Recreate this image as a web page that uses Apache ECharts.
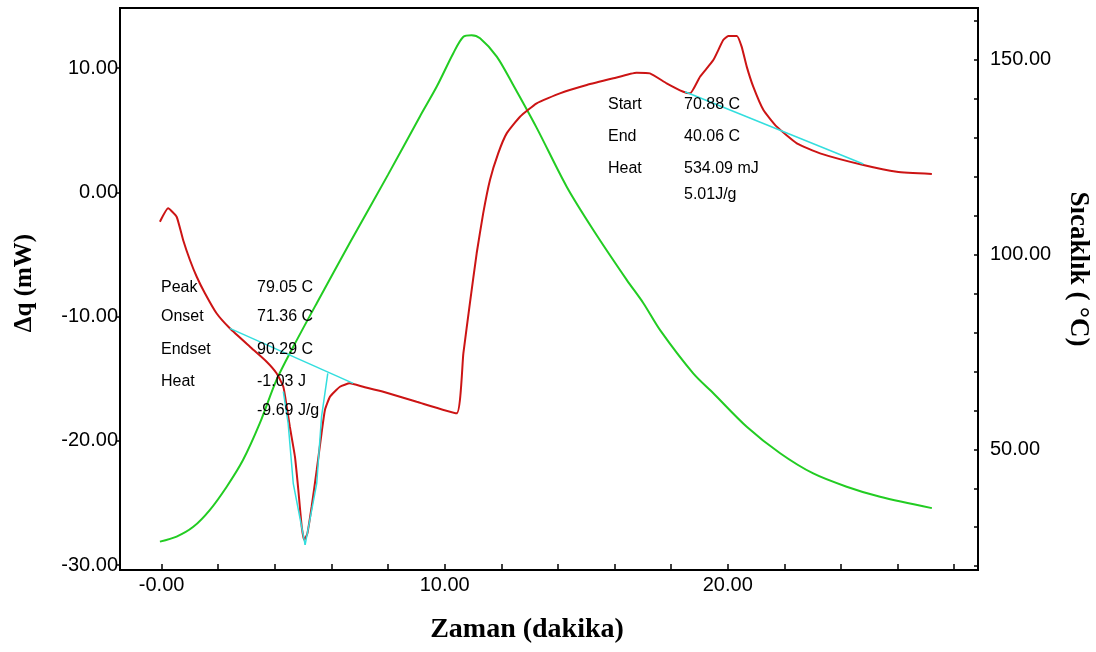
<!DOCTYPE html>
<html>
<head>
<meta charset="utf-8">
<title>DSC</title>
<script src="https://cdn.jsdelivr.net/npm/echarts@6/dist/echarts.min.js"></script>
<style>
  html, body { margin: 0; padding: 0; background: #fff; }
  #chart { width: 1096px; height: 652px; }
</style>
</head>
<body>
<div id="chart"></div>
<script>
// heat flow (red), minutes / mW
const flowTime = [-0.06, 0.23, 0.53, 0.76, 1.0, 1.24, 1.53, 1.94, 2.41, 3.12, 3.71, 4.06, 4.3, 4.42, 4.53, 4.71, 4.83, 4.95, 5.04, 5.15, 5.3, 5.48, 5.65, 5.77, 5.95, 6.3, 6.65, 7.12, 7.83, 9.01, 10.42, 10.66, 10.89, 11.13, 11.36, 11.6, 11.89, 12.19, 12.66, 13.25, 14.07, 15.02, 15.96, 16.78, 17.25, 17.84, 18.43, 18.67, 19.02, 19.49, 19.84, 20.02, 20.32, 20.49, 20.67, 20.9, 21.26, 21.73, 22.44, 23.26, 24.79, 25.97, 27.21];
const flowValues = [-2.37, -1.29, -1.97, -3.84, -5.45, -6.8, -8.13, -9.74, -10.95, -12.43, -13.64, -14.57, -15.65, -17.26, -18.87, -21.28, -23.96, -26.92, -27.99, -27.45, -25.3, -22.35, -19.4, -17.52, -16.45, -15.65, -15.38, -15.65, -16.05, -16.86, -17.79, -12.96, -8.94, -4.91, -1.7, 0.99, 3.13, 4.74, 6.08, 7.16, 7.96, 8.63, 9.17, 9.62, 9.57, 8.77, 8.09, 7.96, 9.3, 10.64, 12.25, 12.58, 12.58, 11.72, 10.11, 8.5, 6.62, 5.28, 3.94, 3.13, 2.19, 1.65, 1.47];

// temperature (green), minutes / °C
const tempTime = [-0.06, 0.53, 1.12, 1.7, 2.3, 2.88, 3.47, 4.06, 4.65, 5.48, 6.65, 8.0, 9.13, 9.72, 10.3, 10.66, 10.95, 11.25, 11.84, 12.42, 13.25, 14.31, 15.25, 16.43, 17.02, 17.61, 18.78, 19.49, 20.67, 21.85, 23.02, 24.2, 25.38, 27.21];
const tempValues = [26.3, 27.6, 30.1, 34.4, 40.4, 47.3, 56.7, 67.8, 76.3, 87.5, 103.0, 120.5, 135.5, 143.1, 151.6, 155.9, 156.3, 155.5, 150.8, 143.5, 132.5, 117.4, 106.3, 93.5, 87.5, 80.6, 69.5, 64.4, 55.8, 49.0, 43.8, 40.4, 37.8, 34.9];

// integration baselines / tangents (cyan), [minutes, mW]
const cyanLines = [
  [[2.41, -10.95], [6.77, -15.38]],
  [[4.3, -16.05], [4.47, -18.6], [4.65, -23.42], [5.07, -28.37]],
  [[5.87, -14.57], [5.65, -18.06], [5.48, -23.42], [5.07, -28.37]],
  [[18.49, 8.09], [24.79, 2.27]]
];

// tick positions and labels
const timeTicks = [0, 2, 4, 6, 8, 10, 12, 14, 16, 18, 20, 22, 24, 26, 28];
const timeLabels = [0, 10, 20];
const flowTicks = [-30, -20, -10, 0, 10];
const tempTicks = [20, 30, 40, 50, 60, 70, 80, 90, 100, 110, 120, 130, 140, 150, 160];
const tempLabels = [50, 100, 150];

const peakNotes = [
  ['Peak', '79.05 C'],
  ['Onset', '71.36 C'],
  ['Endset', '90.29 C'],
  ['Heat', '-1.03 J'],
  ['', '-9.69 J/g']
];
const peakNoteY = [288, 317, 350, 382, 411];
const exoNotes = [
  ['Start', '70.88 C'],
  ['End', '40.06 C'],
  ['Heat', '534.09 mJ'],
  ['', '5.01J/g']
];
const exoNoteY = [105, 137, 169, 195];

const zip = (xs, ys) => xs.map((x, i) => [x, ys[i]]);
const fmt = v => (v === 0 ? '-0.00' : v.toFixed(2));
const tickFont = { color: '#000', fontSize: 20, fontFamily: 'Liberation Sans' };
const noteFont = '16px "Liberation Sans"';

const notes = [];
peakNotes.forEach((n, i) => {
  notes.push({ type: 'text', x: 161, y: peakNoteY[i], z: 10, style: { text: n[0], font: noteFont, fill: '#000', verticalAlign: 'middle' } });
  notes.push({ type: 'text', x: 257, y: peakNoteY[i], z: 10, style: { text: n[1], font: noteFont, fill: '#000', verticalAlign: 'middle' } });
});
exoNotes.forEach((n, i) => {
  notes.push({ type: 'text', x: 608, y: exoNoteY[i], z: 10, style: { text: n[0], font: noteFont, fill: '#000', verticalAlign: 'middle' } });
  notes.push({ type: 'text', x: 684, y: exoNoteY[i], z: 10, style: { text: n[1], font: noteFont, fill: '#000', verticalAlign: 'middle' } });
});

const titles = [
  { type: 'text', x: 527, y: 630, style: { text: 'Zaman (dakika)', font: 'bold 28px "Liberation Serif"', fill: '#000', align: 'center', verticalAlign: 'middle' } },
  { type: 'text', x: 25, y: 283, rotation: Math.PI / 2, style: { text: 'Δq (mW)', font: 'bold 25px "Liberation Serif"', fill: '#000', align: 'center', verticalAlign: 'middle' } },
  { type: 'text', x: 1078, y: 269, rotation: -Math.PI / 2, style: { text: 'Sıcaklık ( °C)', font: 'bold 27px "Liberation Serif"', fill: '#000', align: 'center', verticalAlign: 'middle' } }
];

const chart = echarts.init(document.getElementById('chart'));
chart.setOption({
  animation: false,
  backgroundColor: '#fff',
  grid: {
    left: 120, right: 118, top: 8, bottom: 82,
    show: true, borderColor: '#000', borderWidth: 2,
    outerBoundsMode: 'none'
  },
  xAxis: {
    type: 'value',
    min: -1.47,
    max: 28.84,
    axisLine: { onZero: false, lineStyle: { color: '#000', width: 2 } },
    axisTick: { inside: true, length: 6, customValues: timeTicks, lineStyle: { color: '#000', width: 1.5 } },
    axisLabel: { customValues: timeLabels, formatter: fmt, margin: 5, ...tickFont },
    splitLine: { show: false }
  },
  yAxis: [
    {
      type: 'value',
      position: 'left',
      min: -30.4,
      max: 14.83,
      axisLine: { show: true, onZero: false, lineStyle: { color: '#000', width: 2 } },
      axisTick: { show: true, length: 4, customValues: flowTicks, lineStyle: { color: '#000', width: 1.5 } },
      axisLabel: { customValues: flowTicks, formatter: v => v.toFixed(2), margin: 2, ...tickFont },
      splitLine: { show: false }
    },
    {
      type: 'value',
      position: 'right',
      min: 19.02,
      max: 163.27,
      axisLine: { show: true, onZero: false, lineStyle: { color: '#000', width: 2 } },
      axisTick: { show: true, inside: true, length: 4, customValues: tempTicks, lineStyle: { color: '#000', width: 1.5 } },
      axisLabel: { customValues: tempLabels, formatter: v => v.toFixed(2), margin: 12, ...tickFont },
      splitLine: { show: false }
    }
  ],
  series: [
    {
      name: 'Sıcaklık',
      type: 'line',
      yAxisIndex: 1,
      data: zip(tempTime, tempValues),
      smooth: 0.3,
      showSymbol: false,
      lineStyle: { color: '#22cc22', width: 2 }
    },
    {
      name: 'Δq',
      type: 'line',
      yAxisIndex: 0,
      data: zip(flowTime, flowValues),
      smooth: 0.15,
      showSymbol: false,
      lineStyle: { color: '#cc1414', width: 2 }
    },
    ...cyanLines.map(seg => ({
      type: 'line',
      yAxisIndex: 0,
      data: seg,
      showSymbol: false,
      lineStyle: { color: '#33dede', width: 1.5 }
    }))
  ],
  graphic: [...titles, ...notes]
});
</script>
</body>
</html>
